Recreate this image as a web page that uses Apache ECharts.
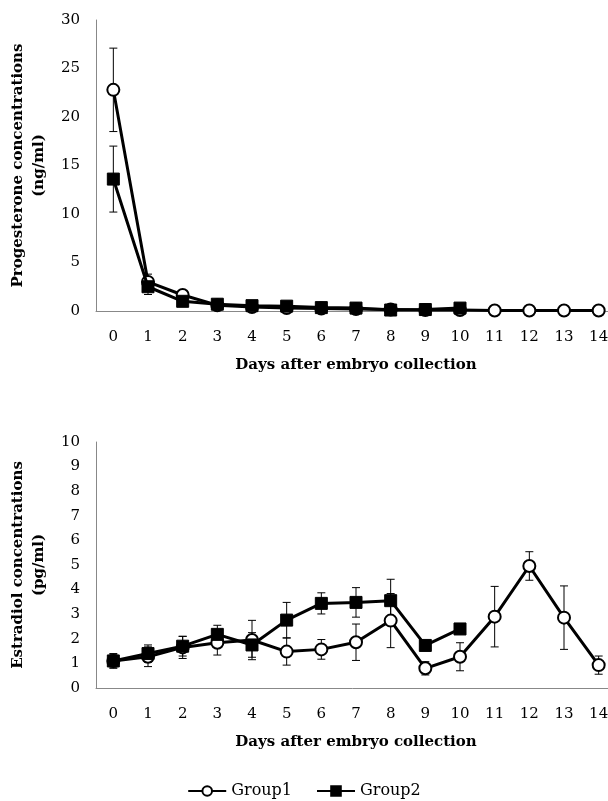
<!DOCTYPE html>
<html><head><meta charset="utf-8">
<script src="https://cdn.jsdelivr.net/npm/echarts@6/dist/echarts.min.js"></script>
<style>html,body{margin:0;padding:0;background:#fff}#c{width:608px;height:801px}</style>
</head><body><div id="c"></div>
<script>
const days = ['0','1','2','3','4','5','6','7','8','9','10','11','12','13','14'];
const progTicks = [0, 30, 5];
const estTicks = [0, 10, 1];
const progG1 = [22.8, 3.0, 1.65, 0.6, 0.4, 0.3, 0.25, 0.2, 0.15, 0.1, 0.1, 0.05, 0.05, 0.05, 0.05];
const progG1Err = [4.3, 0.8, 0.3, 0.1, 0.1, 0.1, 0.1, 0.1, 0.05, 0.05, 0.05, 0.02, 0.02, 0.02, 0.02];
const progG2 = [13.6, 2.5, 1.0, 0.7, 0.55, 0.5, 0.35, 0.3, 0.1, 0.15, 0.3, null, null, null, null];
const progG2Err = [3.4, 0.8, 0.2, 0.1, 0.1, 0.1, 0.1, 0.1, 0.05, 0.05, 0.05, null, null, null, null];
const estG1 = [1.1, 1.27, 1.65, 1.84, 1.95, 1.48, 1.57, 1.86, 2.74, 0.8, 1.27, 2.9, 4.96, 2.86, 0.93];
const estG1Err = [0.25, 0.4, 0.45, 0.5, 0.8, 0.55, 0.4, 0.74, 1.1, 0.27, 0.57, 1.23, 0.58, 1.29, 0.37];
const estG2 = [1.1, 1.4, 1.7, 2.18, 1.75, 2.76, 3.44, 3.48, 3.55, 1.73, 2.4, null, null, null, null];
const estG2Err = [0.3, 0.35, 0.4, 0.37, 0.5, 0.72, 0.43, 0.6, 0.87, 0.15, 0.15, null, null, null, null];

const FONT = 'DejaVu Serif';
function errData(vals, errs) {
  const out = [];
  vals.forEach((v, i) => { if (v != null && errs[i] != null) out.push([i, v - errs[i], v + errs[i]]); });
  return out;
}
function errSeries(vals, errs, xi) {
  return {
    type: 'custom', xAxisIndex: xi, yAxisIndex: xi, z: 1, silent: true,
    data: errData(vals, errs),
    encode: { x: 0, y: [1, 2] },
    renderItem: function (params, api) {
      const x = api.value(0);
      const lo = api.coord([x, api.value(1)]);
      const hi = api.coord([x, api.value(2)]);
      const w = 4;
      const st = { stroke: '#000', lineWidth: 1 };
      return { type: 'group', children: [
        { type: 'line', shape: { x1: lo[0], y1: lo[1], x2: hi[0], y2: hi[1] }, style: st },
        { type: 'line', shape: { x1: lo[0] - w, y1: lo[1], x2: lo[0] + w, y2: lo[1] }, style: st },
        { type: 'line', shape: { x1: hi[0] - w, y1: hi[1], x2: hi[0] + w, y2: hi[1] }, style: st }
      ]};
    }
  };
}
function g1(data, xi) {
  return { name: 'Group1', type: 'line', xAxisIndex: xi, yAxisIndex: xi, z: 3, data: data,
    symbol: 'circle', symbolSize: 12, showAllSymbol: true,
    lineStyle: { color: '#000', width: 3 },
    itemStyle: { color: '#fff', borderColor: '#000', borderWidth: 2 } };
}
function g2(data, xi) {
  return { name: 'Group2', type: 'line', xAxisIndex: xi, yAxisIndex: xi, z: 4, data: data,
    symbol: 'rect', symbolSize: 12, showAllSymbol: true,
    lineStyle: { color: '#000', width: 3 },
    itemStyle: { color: '#000', borderColor: '#000', borderWidth: 1 } };
}
function xAx(gi) {
  return { type: 'category', gridIndex: gi, data: days, boundaryGap: true,
    name: 'Days after embryo collection', nameLocation: 'middle', nameGap: 47,
    nameTextStyle: { fontFamily: FONT, fontWeight: 'bold', fontSize: 15, color: '#000' },
    axisLine: { lineStyle: { color: '#888', width: 1 } }, axisTick: { show: false },
    axisLabel: { fontFamily: FONT, fontSize: 15, color: '#000', margin: 19, interval: 0 },
    splitLine: { show: false } };
}
function yAx(gi, ticks, name) {
  return { type: 'value', gridIndex: gi, min: ticks[0], max: ticks[1], interval: ticks[2],
    name: name, nameLocation: 'middle', nameRotate: 90, nameGap: 41,
    nameTextStyle: { fontFamily: FONT, fontWeight: 'bold', fontSize: 15, color: '#000', lineHeight: 21 },
    axisLine: { show: true, lineStyle: { color: '#888', width: 1 } }, axisTick: { show: false },
    axisLabel: { fontFamily: FONT, fontSize: 15, color: '#000', margin: 16 },
    splitLine: { show: false } };
}
const chart = echarts.init(document.getElementById('c'));
chart.setOption({
  animation: false,
  backgroundColor: '#fff',
  grid: [
    { left: 96, top: 20, width: 520, height: 291, outerBoundsMode: 'none' },
    { left: 96, top: 442, width: 520, height: 246, outerBoundsMode: 'none' }
  ],
  xAxis: [xAx(0), xAx(1)],
  yAxis: [yAx(0, progTicks, 'Progesterone concentrations\n(ng/ml)'), yAx(1, estTicks, 'Estradiol concentrations\n(pg/ml)')],
  legend: { data: ['Group1', 'Group2'], top: 778, left: 'center', itemWidth: 38, itemHeight: 12, itemGap: 24,
    textStyle: { fontFamily: FONT, fontSize: 16, color: '#000' } },
  series: [
    errSeries(progG1, progG1Err, 0), errSeries(progG2, progG2Err, 0),
    errSeries(estG1, estG1Err, 1), errSeries(estG2, estG2Err, 1),
    g1(progG1, 0), g2(progG2, 0), g1(estG1, 1), g2(estG2, 1)
  ]
});
</script></body></html>
